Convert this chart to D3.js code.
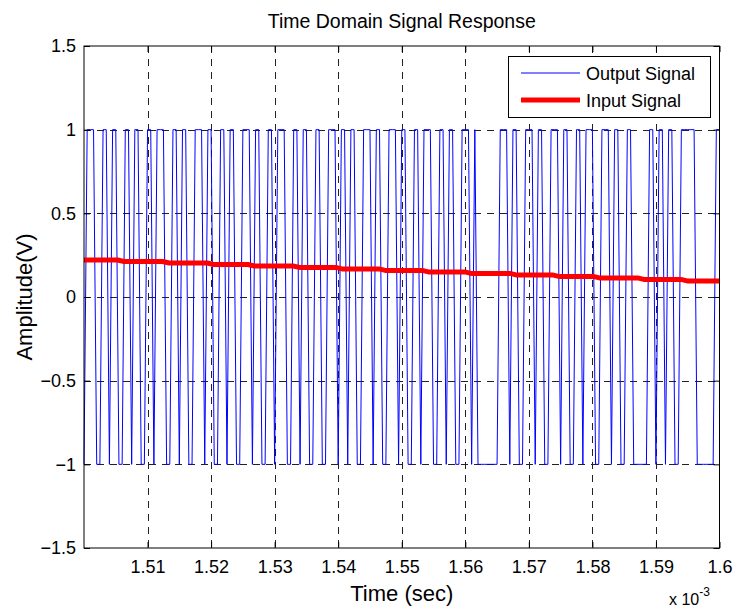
<!DOCTYPE html>
<html>
<head>
<meta charset="utf-8">
<script src="https://cdn.jsdelivr.net/npm/d3@7"></script>
<style>
  body { margin: 0; background: #fff; }
  text { font-family: "Liberation Sans", Arial, sans-serif; fill: #000; }
</style>
</head>
<body>
<svg id="chart" width="737" height="609"></svg>
<script>
// Time axis values are in units of 1e-3 s
const xTicks = [1.51, 1.52, 1.53, 1.54, 1.55, 1.56, 1.57, 1.58, 1.59, 1.6];
const yTicks = [-1.5, -1, -0.5, 0, 0.5, 1, 1.5];
const xGrid = [1.51, 1.52, 1.53, 1.54, 1.55, 1.56, 1.57, 1.58, 1.59];
const yGrid = [-1, -0.5, 0, 0.5, 1];

// Input signal: staircase, step instants and levels
const inputStepTimes = [1.5058, 1.5129, 1.5199, 1.5263, 1.5334, 1.5401, 1.5469,
                        1.5537, 1.5604, 1.5675, 1.5742, 1.5806, 1.5876, 1.5944];
const inputLevels = [0.221, 0.212, 0.203, 0.194, 0.185, 0.177, 0.168, 0.159,
                     0.150, 0.141, 0.132, 0.123, 0.114, 0.105, 0.096];
const inputRamp = 0.001;

// Output signal: comparator output sampled every 0.5 us,
// '+' = +1 V, '-' = -1 V, ten samples per block (201 samples)
const outputStart = 1.5;
const outputStep = 0.0005;
const outputBlocks = [
  "-+++--++-+", "+--++-++--", "++-+++--++", "-++--+++-+", "+--++-++--",
  "+++-++--++", "-+++--++-+", "+--++--+++", "-++-++--++", "+-++--+++-",
  "++--++-+++", "--++-++--+", "++-+------", "-+++-++--+", "++-++--+++",
  "-++--++-++", "+--+++-++-", "-++-----++", "-++-++--++", "+++------+",
  "+"
];

const svg = d3.select("#chart");
const W = 737, H = 609;
const pLeft = 84, pRight = 719.5, pTop = 46, pBottom = 548;

const x = d3.scaleLinear().domain([1.5, 1.6]).range([pLeft, pRight]);
const y = d3.scaleLinear().domain([-1.5, 1.5]).range([pBottom, pTop]);

svg.append("rect").attr("width", W).attr("height", H).attr("fill", "#fff");

// dashed grid
const grid = svg.append("g").attr("stroke", "#222").attr("stroke-width", 1)
  .attr("stroke-dasharray", "7,6").attr("shape-rendering", "crispEdges");
grid.selectAll(".gx").data(xGrid).enter().append("line")
  .attr("x1", d => Math.round(x(d)) + 0.5).attr("x2", d => Math.round(x(d)) + 0.5)
  .attr("y1", pTop).attr("y2", pBottom);
grid.selectAll(".gy").data(yGrid).enter().append("line")
  .attr("y1", d => Math.round(y(d)) + 0.5).attr("y2", d => Math.round(y(d)) + 0.5)
  .attr("x1", pLeft).attr("x2", pRight);

// output signal
const outPts = Array.from(outputBlocks.join("")).map((c, i) =>
  [outputStart + i * outputStep, c === "+" ? 1 : -1]);
const line = d3.line().x(d => x(d[0])).y(d => y(d[1]));
svg.append("path").datum(outPts)
  .attr("d", line).attr("fill", "none").attr("stroke", "#0000ff").attr("stroke-width", 1);

// input signal
const inPts = [[1.5, inputLevels[0]]];
inputStepTimes.forEach((t, i) => {
  inPts.push([t - inputRamp / 2, inputLevels[i]]);
  inPts.push([t + inputRamp / 2, inputLevels[i + 1]]);
});
inPts.push([1.6, inputLevels[inputLevels.length - 1]]);
svg.append("path").datum(inPts)
  .attr("d", line).attr("fill", "none").attr("stroke", "#ff0000")
  .attr("stroke-width", 5).attr("stroke-linejoin", "round");

// axes: box with inward ticks on all four sides
const axisG = svg.append("g");
const tickLen = 6;
const xb = d3.axisBottom(x).tickValues(xTicks).tickSizeInner(-tickLen).tickSizeOuter(0)
  .tickPadding(12).tickFormat(d => d3.format("~g")(d));
axisG.append("g").attr("transform", `translate(0,${pBottom})`).call(xb);
const xt = d3.axisTop(x).tickValues(xTicks).tickSizeInner(-tickLen).tickSizeOuter(0).tickFormat("");
axisG.append("g").attr("transform", `translate(0,${pTop})`).call(xt);
const yl = d3.axisLeft(y).tickValues(yTicks).tickSizeInner(-tickLen).tickSizeOuter(0)
  .tickPadding(8).tickFormat(d => d3.format("~g")(d));
axisG.append("g").attr("transform", `translate(${pLeft},0)`).call(yl);
const yr = d3.axisRight(y).tickValues(yTicks).tickSizeInner(-tickLen).tickSizeOuter(0).tickFormat("");
axisG.append("g").attr("transform", `translate(${pRight},0)`).call(yr);
axisG.selectAll(".domain").remove();
axisG.selectAll("text").attr("font-size", 18).attr("font-family", "Liberation Sans, Arial, sans-serif");
axisG.selectAll("line").attr("stroke", "#000");

svg.append("rect").attr("x", pLeft).attr("y", pTop)
  .attr("width", pRight - pLeft).attr("height", pBottom - pTop)
  .attr("fill", "none").attr("stroke", "#000").attr("stroke-width", 1);

// titles
svg.append("text").attr("x", (pLeft + pRight) / 2).attr("y", 28)
  .attr("text-anchor", "middle").attr("font-size", 19.5).text("Time Domain Signal Response");
svg.append("text").attr("x", (pLeft + pRight) / 2).attr("y", 601)
  .attr("text-anchor", "middle").attr("font-size", 22).text("Time (sec)");
svg.append("text").attr("transform", `translate(32,${(pTop + pBottom) / 2}) rotate(-90)`)
  .attr("text-anchor", "middle").attr("font-size", 22).text("Amplitude(V)");
const expo = svg.append("text").attr("x", 669).attr("y", 605).attr("font-size", 16);
expo.append("tspan").text("x 10");
expo.append("tspan").attr("dy", -9).attr("font-size", 12).text("-3");

// legend
const lg = svg.append("g");
lg.append("rect").attr("x", 508.5).attr("y", 56.5).attr("width", 202).attr("height", 61)
  .attr("fill", "#fff").attr("stroke", "#000").attr("stroke-width", 1);
lg.append("line").attr("x1", 521).attr("x2", 580).attr("y1", 73).attr("y2", 73)
  .attr("stroke", "#0000ff").attr("stroke-width", 1);
lg.append("line").attr("x1", 521).attr("x2", 580).attr("y1", 100).attr("y2", 100)
  .attr("stroke", "#ff0000").attr("stroke-width", 5);
lg.append("text").attr("x", 586).attr("y", 79.5).attr("font-size", 18).text("Output Signal");
lg.append("text").attr("x", 586).attr("y", 106.5).attr("font-size", 18).text("Input Signal");
</script>
</body>
</html>
